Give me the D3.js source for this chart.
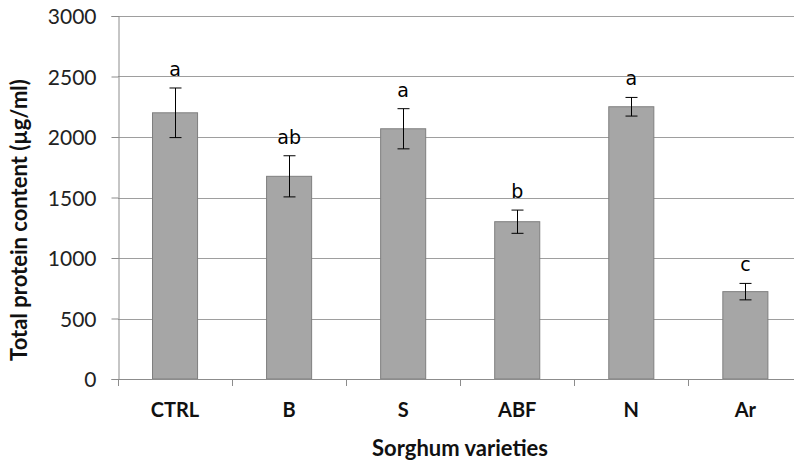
<!DOCTYPE html>
<html>
<head>
<meta charset="utf-8">
<script src="https://cdn.jsdelivr.net/npm/d3@7"></script>
<style>
  html, body { margin: 0; padding: 0; background: #fff; }
  svg { display: block; }
</style>
</head>
<body>
<svg id="chart" width="794" height="460"></svg>
<script>
// Total protein content per sorghum variety (mean ± error), with significance letters
const varieties = ["CTRL", "B", "S", "ABF", "N", "Ar"];
const proteinMean = [2200, 1675, 2068, 1300, 2250, 722];
const proteinErr = [205, 170, 166, 96, 77, 68];
const groupLetters = ["a", "ab", "a", "b", "a", "c"];
const yTicks = [0, 500, 1000, 1500, 2000, 2500, 3000];

const svg = d3.select("#chart");
const plot = { left: 118, right: 802.4, top: 16, bottom: 379 };

const x = d3.scaleBand()
  .domain(varieties)
  .range([plot.left, plot.right])
  .paddingInner(0.605)
  .paddingOuter(0.3025);

const y = d3.scaleLinear()
  .domain([0, 3000])
  .range([plot.bottom, plot.top]);

const labelFont = "Lato, 'Open Sans', sans-serif";

// horizontal gridlines
svg.append("g")
  .selectAll("line")
  .data(yTicks.filter(d => d > 0))
  .join("line")
  .attr("x1", plot.left)
  .attr("x2", 794)
  .attr("y1", d => Math.round(y(d)) + 0.5)
  .attr("y2", d => Math.round(y(d)) + 0.5)
  .attr("stroke", "#9e9e9e")
  .attr("stroke-width", 1);

// y axis
const yAxis = svg.append("g")
  .attr("transform", `translate(${plot.left + 0.5},0)`)
  .call(d3.axisLeft(y).tickValues(yTicks).tickSize(7).tickPadding(15).tickFormat(d3.format("d")));
yAxis.select(".domain").attr("stroke", "#8c8c8c");
yAxis.selectAll(".tick line").attr("stroke", "#8c8c8c");
yAxis.selectAll(".tick text")
  .attr("fill", "#222")
  .attr("font-family", labelFont)
  .attr("font-size", 21)
  .attr("dy", "0.38em");

// bars
svg.append("g")
  .selectAll("rect")
  .data(varieties)
  .join("rect")
  .attr("x", d => x(d))
  .attr("y", (d, i) => y(proteinMean[i]))
  .attr("width", x.bandwidth())
  .attr("height", (d, i) => y(0) - y(proteinMean[i]))
  .attr("fill", "#a6a6a6")
  .attr("stroke", "#7f7f7f")
  .attr("stroke-width", 1);

// x axis with ticks between categories
const step = x.step();
const boundaries = d3.range(varieties.length + 1).map(i => plot.left + i * step);
const xAxisG = svg.append("g");
xAxisG.append("line")
  .attr("x1", plot.left).attr("x2", 794)
  .attr("y1", plot.bottom + 0.5).attr("y2", plot.bottom + 0.5)
  .attr("stroke", "#8c8c8c");
xAxisG.selectAll("line.tk")
  .data(boundaries)
  .join("line")
  .attr("class", "tk")
  .attr("x1", d => Math.round(d) + 0.5).attr("x2", d => Math.round(d) + 0.5)
  .attr("y1", plot.bottom).attr("y2", plot.bottom + 7)
  .attr("stroke", "#8c8c8c");
xAxisG.selectAll("text")
  .data(varieties)
  .join("text")
  .attr("x", d => x(d) + x.bandwidth() / 2)
  .attr("y", 417)
  .attr("text-anchor", "middle")
  .attr("font-family", labelFont)
  .attr("font-weight", "bold")
  .attr("font-size", 20)
  .attr("fill", "#111")
  .text(d => d);

// error bars
const err = svg.append("g").attr("stroke", "#000").attr("stroke-width", 1);
varieties.forEach((v, i) => {
  const cx = Math.round(x(v) + x.bandwidth() / 2) + 0.5;
  const hi = y(proteinMean[i] + proteinErr[i]);
  const lo = y(proteinMean[i] - proteinErr[i]);
  err.append("line").attr("x1", cx).attr("x2", cx).attr("y1", hi).attr("y2", lo);
  err.append("line").attr("x1", cx - 6).attr("x2", cx + 6).attr("y1", hi).attr("y2", hi);
  err.append("line").attr("x1", cx - 6).attr("x2", cx + 6).attr("y1", lo).attr("y2", lo);
});

// significance letters above error bars
svg.append("g")
  .selectAll("text")
  .data(varieties)
  .join("text")
  .attr("x", d => x(d) + x.bandwidth() / 2)
  .attr("y", (d, i) => y(proteinMean[i] + proteinErr[i]) - 12)
  .attr("text-anchor", "middle")
  .attr("font-family", "'DejaVu Sans', Verdana, sans-serif")
  .attr("font-size", 19)
  .attr("fill", "#000")
  .text((d, i) => groupLetters[i]);

// axis titles
svg.append("text")
  .attr("x", 460)
  .attr("y", 456)
  .attr("text-anchor", "middle")
  .attr("font-family", labelFont)
  .attr("font-weight", "bold")
  .attr("font-size", 22)
  .attr("fill", "#111")
  .text("Sorghum varieties");

svg.append("text")
  .attr("transform", "translate(27,220) rotate(-90)")
  .attr("text-anchor", "middle")
  .attr("font-family", labelFont)
  .attr("font-weight", "bold")
  .attr("font-size", 22)
  .attr("fill", "#111")
  .text("Total protein content (µg/ml)");
</script>
</body>
</html>
